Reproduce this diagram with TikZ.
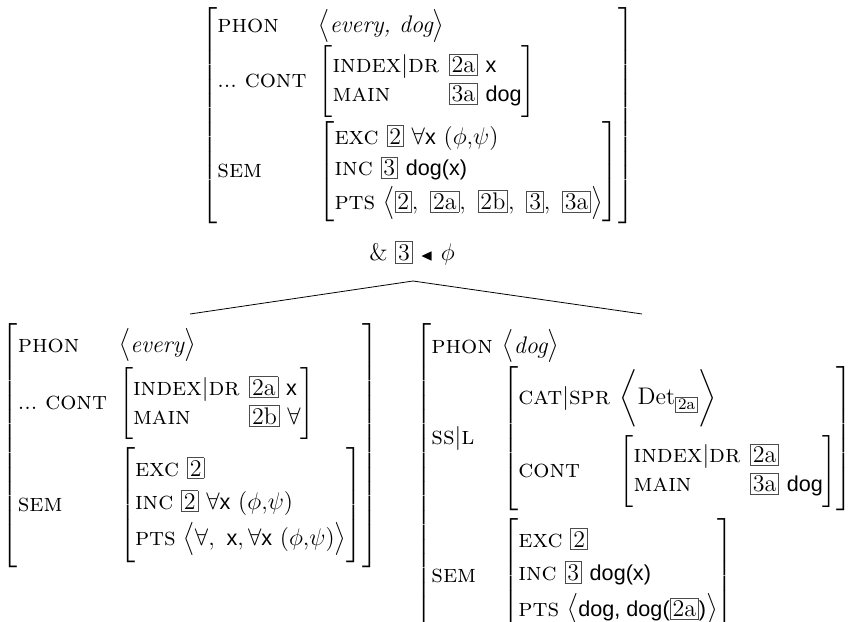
\documentclass[tikz,border=0pt]{standalone}
\usepackage{amssymb,amsmath}
\usepackage{graphicx}
\usepackage{fontspec}
\usepackage{xcolor}
\usetikzlibrary{positioning}
\newfontfamily\sansf[Scale=0.9]{Liberation Sans}

\newcommand{\ft}[1]{{\fontsize{12.7}{13.5}\selectfont\textsc{#1}}}
\newcommand{\sv}[1]{\text{\sansf #1}}
\newcommand{\tg}[1]{\text{\setlength{\fboxsep}{1pt}\fcolorbox{black!70}{white}{\normalfont #1}}}
\newcommand{\avmfont}{\fontsize{12}{13.5}\selectfont}
\newcommand{\dr}{\ft{index}|\ft{dr}}
\newcommand{\rsep}[1]{\\\noalign{\vskip#1}}
\newcommand{\lng}{\mathopen{\scalebox{1}[1.15]{$\delimitershortfall=5pt\bigl\langle$}}}
\newcommand{\rng}{\mathclose{\scalebox{1}[1.15]{$\delimitershortfall=5pt\bigr\rangle$}}}
\newcommand{\detseq}[1]{\delimitershortfall=5pt\biggl\langle\mathrm{Det}_{#1}\biggr\rangle}
\renewcommand{\arraystretch}{1.08}
\delimitershortfall=-1pt

\begin{document}
\begin{tikzpicture}[x={(0.5pt,0)},y={(0,-0.5pt)},inner sep=0pt,font=\avmfont]
	\useasboundingbox (0,0) rectangle (849,621);
	% mother
	\node (m_0) [anchor=north] at (418,7) {$\left[\begin{array}{@{}l@{\hspace{0.5em}}l@{}}
		\ft{phon} & \lng\textit{every, dog}\rng\rsep{1.5pt}
		\text{...\ }\ft{cont} & \left[\begin{array}{@{}l@{\hspace{0.4em}}l@{}}\dr & \tg{2a}\ \sv{x}\\ \ft{main} & \tg{3a}\ \sv{dog}\end{array}\right]\rsep{2pt}
		\ft{sem} & \left[\begin{array}{@{}l@{}}\ft{exc}\ \tg{2}\ \forall\sv{x}\ (\phi{,}\psi)\\[1pt] \ft{inc}\ \tg{3}\ \sv{dog(x)}\\[1pt] \ft{pts}\ \lng\tg{2},\ \tg{2a},\ \tg{2b},\ \tg{3},\ \tg{3a}\rng\end{array}\right]
		\end{array}\right]$};
	\node (c_0) at (412,253) {\&\ \tg{3} $\mathbin{\scriptstyle\blacktriangleleft}$ $\phi$};
	\coordinate (t_0) at (413,281);
	% daughters
	\node (d_1) [anchor=north] at (190,323) {$\left[\begin{array}{@{}l@{\hspace{0.5em}}l@{}}
		\ft{phon} & \lng\textit{every}\rng\rsep{3pt}
		\text{...\ }\ft{cont} & \left[\begin{array}{@{}l@{\hspace{0.4em}}l@{}}\dr & \tg{2a}\ \sv{x}\\ \ft{main} & \tg{2b}\ \forall\end{array}\right]\rsep{4pt}
		\ft{sem} & \left[\begin{array}{@{}l@{}}\ft{exc}\ \tg{2}\\[2pt] \ft{inc}\ \tg{2}\ \forall\sv{x}\ (\phi{,}\psi)\\[2pt] \ft{pts}\ \lng\forall,\ \sv{x},\forall\sv{x}\ (\phi{,}\psi)\rng\end{array}\right]
		\end{array}\right]$};
	\node (d_2) [anchor=north west] at (415,323) {$\left[\begin{array}{@{}l@{\hspace{0.4em}}l@{}}
		\ft{phon} & \lng\textit{dog}\rng\rsep{2pt}
		\ft{ss}|\ft{l} & \left[\begin{array}{@{}l@{\hspace{0.4em}}l@{}}\ft{cat}|\ft{spr} & \detseq{\tg{2a}}\rsep{4pt}
			\ft{cont} & \left[\begin{array}{@{}l@{\hspace{0.4em}}l@{}}\dr & \tg{2a}\\ \ft{main} & \tg{3a}\ \sv{dog}\end{array}\right]\end{array}\right]\rsep{4pt}
		\ft{sem} & \left[\begin{array}{@{}l@{}}\ft{exc}\ \tg{2}\\[2pt] \ft{inc}\ \tg{3}\ \sv{dog(x)}\\[2pt] \ft{pts}\ \lng\sv{dog, dog(}\tg{2a}\sv{)}\rng\end{array}\right]
		\end{array}\right]$};
	\draw (t_0) -- ([yshift=4.5pt]d_1.north);
	\draw (t_0) -- ([yshift=4.5pt]d_2.north);
\end{tikzpicture}
\end{document}
